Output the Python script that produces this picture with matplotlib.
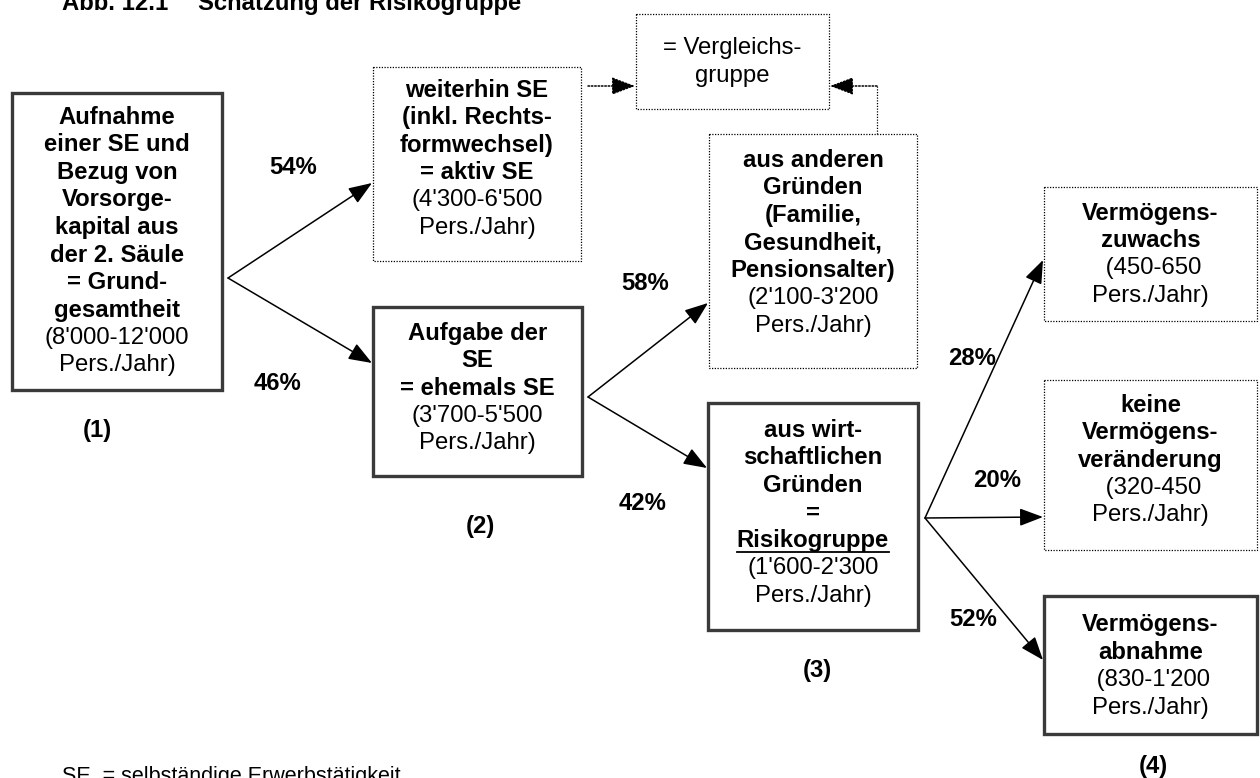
import matplotlib.pyplot as plt
from matplotlib.patches import Rectangle, FancyArrowPatch

plt.rcParams['font.family'] = ['Liberation Sans', 'DejaVu Sans']

# --- data ---
box_names = ['grund', 'aktiv', 'vergleich', 'ehemals', 'andere',
             'risiko', 'zuwachs', 'keine', 'abnahme']
box_heads = [
    ['Aufnahme', 'einer SE und', 'Bezug von', 'Vorsorge-', 'kapital aus',
     'der 2. Säule', '= Grund-', 'gesamtheit'],
    ['weiterhin SE', '(inkl. Rechts-', 'formwechsel)', '= aktiv SE'],
    [],
    ['Aufgabe der', 'SE', '= ehemals SE'],
    ['aus anderen', 'Gründen', '(Familie,', 'Gesundheit,', 'Pensionsalter)'],
    ['aus wirt-', 'schaftlichen', 'Gründen', '=', 'Risikogruppe'],
    ['Vermögens-', 'zuwachs'],
    ['keine', 'Vermögens-', 'veränderung'],
    ['Vermögens-', 'abnahme'],
]
box_ranges = ["8'000-12'000", "4'300-6'500", None, "3'700-5'500",
              "2'100-3'200", "1'600-2'300", '450-650', '320-450', "830-1'200"]
vergleich_text = ['= Vergleichs-', 'gruppe']

stage1_pct = [54, 46]
stage2_pct = [58, 42]
stage3_pct = [28, 20, 52]
stage_labels = ['(1)', '(2)', '(3)', '(4)']

# --- layout (pixel coordinates, y downwards) ---
box_rect = [(12, 93, 222, 390), (373, 67, 581, 261), (636, 14, 829, 109),
            (373, 307, 582, 476), (709, 134, 917, 368), (708, 403, 918, 630),
            (1044, 187, 1257, 321), (1044, 380, 1257, 550), (1044, 596, 1257, 734)]
box_first_y = [117, 90, 48, 333, 160, 430, 213, 405, 625]
box_solid = [True, False, False, True, False, True, False, False, True]
step = 27.6
fs = 17.2

fig = plt.figure(figsize=(12.6, 7.78), dpi=100)
ax = fig.add_axes([0, 0, 1, 1])
ax.set_xlim(0, 1260)
ax.set_ylim(778, 0)
ax.axis('off')

underline_txt = None
for i, name in enumerate(box_names):
    x0, y0, x1, y1 = box_rect[i]
    if box_solid[i]:
        ax.add_patch(Rectangle((x0, y0), x1 - x0, y1 - y0, fill=False,
                               ec='#3a3a3a', lw=2.4))
    else:
        ax.add_patch(Rectangle((x0, y0), x1 - x0, y1 - y0, fill=False,
                               ec='black', lw=0.9, ls=(0, (1, 1.2))))
    xc = (x0 + x1) / 2
    lines = [(t, 'bold') for t in box_heads[i]]
    if box_ranges[i] is not None:
        pre = ' (' if x0 > 1000 else '('
        lines += [(pre + box_ranges[i], 'normal'), ('Pers./Jahr)', 'normal')]
    else:
        lines += [(t, 'normal') for t in vergleich_text]
    for k, (t, w) in enumerate(lines):
        txt = ax.text(xc, box_first_y[i] + k * step, t, ha='center',
                      va='center', fontsize=fs, fontweight=w)
        if t == 'Risikogruppe':
            underline_txt = txt


def arrow(p0, p1, ls='-'):
    ax.add_patch(FancyArrowPatch(p0, p1, arrowstyle='-|>,head_length=0.9,head_width=0.34',
                                 mutation_scale=16, lw=1.1, ls=ls, color='black',
                                 shrinkA=0, shrinkB=0))


# solid branches
arrow((228, 278), (372, 183))
arrow((228, 278), (372, 363))
arrow((588, 397), (708, 303))
arrow((588, 397), (707, 468))
arrow((925, 518), (1043, 260))
arrow((925, 518), (1043, 517))
arrow((925, 518), (1043, 660))

# dotted links to the comparison group
arrow((588, 86), (635, 86), ls=(0, (1, 1.2)))
ax.plot([877, 877], [134, 86], color='black', lw=0.9, ls=(0, (1, 1.2)))
arrow((877, 86), (830, 86), ls=(0, (1, 1.2)))

# percentages
pct_pos = [(293, 167), (277, 383), (645, 283), (643, 503),
           (972, 358), (997, 480), (973, 620)]
for (x, y), v in zip(pct_pos, stage1_pct + stage2_pct + stage3_pct):
    ax.text(x, y, f'{v}%', ha='center', va='center', fontsize=fs, fontweight='bold')

stage_pos = [(97, 430), (480, 527), (817, 670), (1153, 767)]
for (x, y), s in zip(stage_pos, stage_labels):
    ax.text(x, y, s, ha='center', va='center', fontsize=fs, fontweight='bold')

# title (cut off at the top edge) and footnote (cut off at the bottom), as in the source
ax.text(62, 10, 'Abb. 12.1', ha='left', va='baseline', fontsize=fs, fontweight='bold')
ax.text(198, 10, 'Schätzung der Risikogruppe', ha='left', va='baseline',
        fontsize=fs, fontweight='bold')
ax.text(62, 766, 'SE  = selbständige Erwerbstätigkeit', ha='left', va='top',
        fontsize=15.5)

# underline "Risikogruppe"
fig.canvas.draw()
bb = underline_txt.get_window_extent().transformed(ax.transData.inverted())
ax.plot([bb.x0, bb.x1], [552, 552], color='black', lw=1.3)

fig.savefig('out.png', dpi=100)
